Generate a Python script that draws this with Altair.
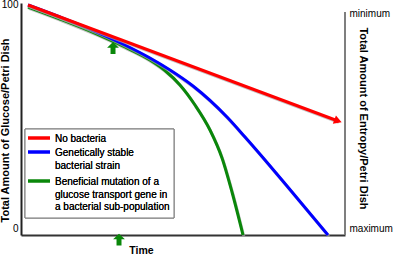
import altair as alt
import pandas as pd

# ---- data (x: time 0-100, y: glucose 0-100) ----
red_time = [2.16, 97.84]
red_level = [100.0, 49.57]

blue_time = [2.16, 12.04, 23.46, 32.10, 39.81, 45.99, 53.09, 63.58, 69.14, 75.31, 82.10, 94.75]
blue_level = [100.0, 94.78, 88.26, 82.61, 76.96, 71.74, 64.78, 51.30, 42.61, 32.61, 21.30, 0.0]

green_time = [2.16, 12.04, 23.46, 32.10, 39.81, 44.44, 49.07, 53.70, 58.33, 62.04, 65.12, 68.52]
green_level = [99.13, 93.91, 87.39, 81.74, 76.09, 71.52, 65.22, 56.52, 45.65, 33.48, 18.70, 0.0]

marker_time = [28.4, 30.25]
marker_level = [81.3, -2.0]

left_tick_values = [2.61, 100.43]
right_tick_values = [96.52, 3.04]

legend_red = ["No bacteria"]
legend_blue = ["Genetically stable", "bacterial strain"]
legend_green = ["Beneficial mutation of a", "glucose transport gene in", "a bacterial sub-population"]

RED, BLUE, GREEN = "#ff0000", "#0000ff", "#0a870a"
SHADOW = "#aaaaaa"
FONT = "Liberation Sans"

red_df = pd.DataFrame({"t": red_time, "g": red_level, "i": range(len(red_time))})
blue_df = pd.DataFrame({"t": blue_time, "g": blue_level, "i": range(len(blue_time))})
green_df = pd.DataFrame({"t": green_time, "g": green_level, "i": range(len(green_time))})
marker_df = pd.DataFrame({"t": marker_time, "g": marker_level})
head_df = pd.DataFrame({"t": [red_time[-1]], "g": [red_level[-1]]})

xs = alt.Scale(domain=[0, 100])
ys = alt.Scale(domain=[0, 100.87])

x_axis = alt.Axis(
    title="Time", ticks=False, labels=False, grid=False,
    domainColor="#333333", domainWidth=2,
    titleFont=FONT, titleFontSize=10.5, titleFontWeight="bold", titleColor="black",
    titleX=120, titleY=15, titleAlign="center", titleBaseline="middle",
)
y_axis = alt.Axis(
    title="Total Amount of Glucose/Petri Dish",
    values=left_tick_values, labelExpr="datum.value > 50 ? '100' : '0'",
    ticks=False, grid=False, domainColor="#222222", domainWidth=2,
    labelFont=FONT, labelFontSize=10, labelColor="black", labelPadding=3,
    labelOverlap=False, labelFlush=False,
    titleFont=FONT, titleFontSize=11, titleFontWeight="bold", titleColor="black",
    titleX=-16, titleY=127, titleAngle=270, titleAlign="center", titleBaseline="middle",
)
y_axis_right = alt.Axis(
    orient="right", title="Total Amount of Entropy/Petri Dish",
    values=right_tick_values, labelExpr="datum.value > 50 ? 'minimum' : 'maximum'",
    ticks=False, grid=False, domain=False,
    labelFont=FONT, labelFontSize=10, labelColor="black", labelPadding=4,
    labelOverlap=False, labelFlush=False,
    titleFont=FONT, titleFontSize=11, titleFontWeight="bold", titleColor="black",
    titleX=17, titleY=115, titleAngle=90, titleAlign="center", titleBaseline="middle",
)

X = alt.X("t:Q", scale=xs, axis=x_axis)
Y = alt.Y("g:Q", scale=ys, axis=y_axis)
Xs = alt.X("ts:Q", scale=xs, axis=x_axis)
Ys = alt.Y("gs:Q", scale=ys, axis=y_axis)


def curve(df, color, interp):
    shadow = alt.Chart(df).transform_calculate(
        ts="datum.t + 0.25", gs="datum.g - 0.6"
    ).mark_line(color=SHADOW, strokeWidth=3, opacity=0.7, interpolate=interp).encode(x=Xs, y=Ys, order="i:Q")
    line = alt.Chart(df).mark_line(color=color, strokeWidth=3, interpolate=interp).encode(x=X, y=Y, order="i:Q")
    return [shadow, line]


curves = curve(green_df, GREEN, "monotone") + curve(blue_df, BLUE, "monotone") + curve(red_df, RED, "linear")
red_head = alt.Chart(head_df).mark_point(shape="triangle-right", angle=20.5, filled=True, color=RED, opacity=1, size=80).encode(x=X, y=Y)

arrow_path = "M0,-1L1,-0.05L0.42,-0.05L0.42,1L-0.42,1L-0.42,-0.05L-1,-0.05Z"
markers = alt.Chart(marker_df).mark_point(shape=arrow_path, filled=True, color=GREEN, opacity=1, size=140, strokeWidth=0).encode(x=X, y=Y)

right_rule = alt.Chart(red_df).mark_rule(color="#777777", strokeWidth=1.5).encode(
    x=alt.value(324), y=alt.value(9), y2=alt.value(232))

legend_box = alt.Chart(red_df).mark_rect(fill="white", stroke="#777777", strokeWidth=1).encode(
    x=alt.value(4), x2=alt.value(153), y=alt.value(126), y2=alt.value(215))


def legend_entry(color, lines, yc):
    rule = alt.Chart(red_df).mark_rule(color=color, strokeWidth=3).encode(
        x=alt.value(7), x2=alt.value(29), y=alt.value(yc))
    text = alt.Chart(red_df).mark_text(
        align="left", baseline="top", font=FONT, fontSize=10, lineHeight=12.5, color="black"
    ).encode(x=alt.value(34), y=alt.value(yc - 4), text=alt.value(lines))
    return [rule, text]


legend_layers = [legend_box]
legend_layers += legend_entry(RED, legend_red, 135)
legend_layers += legend_entry(BLUE, legend_blue, 149)
legend_layers += legend_entry(GREEN, legend_green, 178)

main = alt.layer(*curves, red_head, markers, right_rule, *legend_layers)

right = alt.Chart(red_df).mark_line(opacity=0).encode(
    x=X, y=alt.Y("g:Q", scale=ys, axis=y_axis_right))

chart = alt.layer(main, right).resolve_scale(y="independent").properties(
    width=324, height=232,
    padding={"left": 21, "top": 3, "right": 49, "bottom": 21},
    autosize=alt.AutoSizeParams(type="none"),
).configure_view(stroke=None)

chart.save("out.html", embed_options={"renderer": "svg", "actions": False})
